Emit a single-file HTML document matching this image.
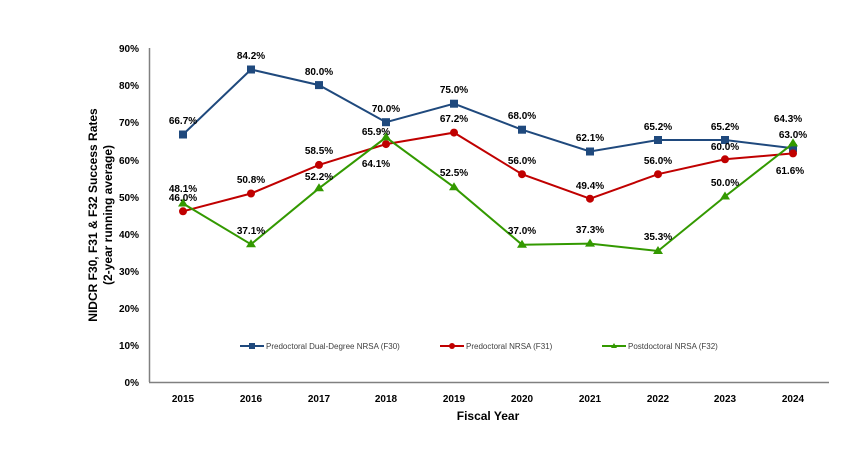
<!DOCTYPE html><html><head><style>body{margin:0;background:#fff}svg{display:block}text{font-family:"Liberation Sans",Arial,sans-serif}</style></head><body>
<svg width="850" height="472" xmlns="http://www.w3.org/2000/svg">
<g font-size="10" font-weight="bold" fill="#000" text-anchor="end">
<text x="139" y="52">90%</text><text x="139" y="89">80%</text><text x="139" y="126">70%</text><text x="139" y="164">60%</text><text x="139" y="201">50%</text><text x="139" y="238">40%</text><text x="139" y="275">30%</text><text x="139" y="312">20%</text><text x="139" y="349">10%</text><text x="139" y="386">0%</text>
</g>
<line x1="149.5" y1="48" x2="149.5" y2="382" stroke="#808080" stroke-width="1.5"/>
<line x1="149" y1="382.5" x2="829" y2="382.5" stroke="#808080" stroke-width="1.5"/>
<g font-size="10" font-weight="bold" text-anchor="middle">
<text x="183" y="402">2015</text><text x="251" y="402">2016</text><text x="319" y="402">2017</text><text x="386" y="402">2018</text><text x="454" y="402">2019</text><text x="522" y="402">2020</text><text x="590" y="402">2021</text><text x="658" y="402">2022</text><text x="725" y="402">2023</text><text x="793" y="402">2024</text>
</g>
<text x="488" y="420" font-size="12" font-weight="bold" text-anchor="middle">Fiscal Year</text>
<text transform="translate(97,215) rotate(-90)" font-size="12" font-weight="bold" text-anchor="middle">NIDCR F30, F31 &amp; F32 Success Rates</text>
<text transform="translate(112,215) rotate(-90)" font-size="12" font-weight="bold" text-anchor="middle">(2-year running average)</text>
<polyline fill="none" stroke="#1f497d" stroke-width="2" points="183,134.5 251,69.5 319,85.1 386,122.2 454,103.7 522,129.7 590,151.5 658,140 725,140 793,148.2"/>
<g fill="#1f497d"><rect x="179" y="130.5" width="8" height="8"/><rect x="247" y="65.5" width="8" height="8"/><rect x="315" y="81.1" width="8" height="8"/><rect x="382" y="118.2" width="8" height="8"/><rect x="450" y="99.7" width="8" height="8"/><rect x="518" y="125.7" width="8" height="8"/><rect x="586" y="147.5" width="8" height="8"/><rect x="654" y="136" width="8" height="8"/><rect x="721" y="136" width="8" height="8"/><rect x="789" y="144.2" width="8" height="8"/></g>
<polyline fill="none" stroke="#c00000" stroke-width="2" points="183,211.3 251,193.5 319,164.9 386,144.1 454,132.6 522,174.2 590,198.7 658,174.2 725,159.3 793,153.4"/>
<g fill="#c00000"><circle cx="183" cy="211.3" r="4"/><circle cx="251" cy="193.5" r="4"/><circle cx="319" cy="164.9" r="4"/><circle cx="386" cy="144.1" r="4"/><circle cx="454" cy="132.6" r="4"/><circle cx="522" cy="174.2" r="4"/><circle cx="590" cy="198.7" r="4"/><circle cx="658" cy="174.2" r="4"/><circle cx="725" cy="159.3" r="4"/><circle cx="793" cy="153.4" r="4"/></g>
<polyline fill="none" stroke="#339900" stroke-width="2" points="183,203.5 251,244.3 319,188.3 386,137.4 454,187.2 522,244.7 590,243.6 658,251 725,196.5 793,143.4"/>
<g fill="#339900"><path d="M183,198.5l5,8h-10z"/><path d="M251,239.3l5,8h-10z"/><path d="M319,183.3l5,8h-10z"/><path d="M386,132.4l5,8h-10z"/><path d="M454,182.2l5,8h-10z"/><path d="M522,239.7l5,8h-10z"/><path d="M590,238.6l5,8h-10z"/><path d="M658,246l5,8h-10z"/><path d="M725,191.5l5,8h-10z"/><path d="M793,138.4l5,8h-10z"/></g>
<g font-size="10" font-weight="bold" text-anchor="middle">
<text x="183" y="124">66.7%</text><text x="251" y="59">84.2%</text><text x="319" y="75">80.0%</text><text x="386" y="112">70.0%</text><text x="454" y="93">75.0%</text><text x="522" y="119">68.0%</text><text x="590" y="141">62.1%</text><text x="658" y="130">65.2%</text><text x="725" y="130">65.2%</text><text x="793" y="138">63.0%</text>
<text x="183" y="201">46.0%</text><text x="251" y="183">50.8%</text><text x="319" y="154">58.5%</text><text x="376" y="167">64.1%</text><text x="454" y="122">67.2%</text><text x="522" y="164">56.0%</text><text x="590" y="189">49.4%</text><text x="658" y="164">56.0%</text><text x="725" y="150">60.0%</text><text x="790" y="174">61.6%</text>
<text x="183" y="192">48.1%</text><text x="251" y="234">37.1%</text><text x="319" y="180">52.2%</text><text x="376" y="135">65.9%</text><text x="454" y="176">52.5%</text><text x="522" y="234">37.0%</text><text x="590" y="233">37.3%</text><text x="658" y="240">35.3%</text><text x="725" y="186">50.0%</text><text x="788" y="122">64.3%</text>
</g>
<g font-size="8" fill="#404040">
<line x1="240" y1="346" x2="264" y2="346" stroke="#1f497d" stroke-width="2"/><rect x="249" y="343" width="6" height="6" fill="#1f497d"/><text x="266" y="349">Predoctoral Dual-Degree NRSA (F30)</text>
<line x1="440" y1="346" x2="464" y2="346" stroke="#c00000" stroke-width="2"/><circle cx="452" cy="346" r="3" fill="#c00000"/><text x="466" y="349">Predoctoral NRSA (F31)</text>
<line x1="602" y1="346" x2="626" y2="346" stroke="#339900" stroke-width="2"/><path d="M614,343l3,5h-6z" fill="#339900"/><text x="628" y="349">Postdoctoral NRSA (F32)</text>
</g>
</svg></body></html>
